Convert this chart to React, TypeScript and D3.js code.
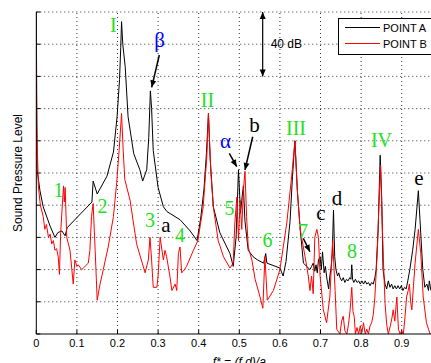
import React from "react";
import * as d3 from "d3";

const W = 431;
const H = 363;

// POINT A (black) : [f*, dB]
const pointA: [number, number][] = [
  [0, 200], [0.001, 150], [0.002, 102], [0.009, 89], [0.017, 79], [0.034, 67], [0.046, 60],
  [0.053, 63], [0.063, 64], [0.071, 61], [0.076, 66], [0.137, 82], [0.140, 95], [0.150, 87],
  [0.174, 98], [0.19, 113], [0.199, 135], [0.205, 158], [0.208, 178], [0.210, 194], [0.213, 180],
  [0.219, 166], [0.226, 135], [0.240, 112], [0.255, 102], [0.262, 95], [0.272, 102], [0.277, 122],
  [0.281, 151], [0.284, 140], [0.288, 114], [0.300, 91], [0.313, 79], [0.322, 76], [0.354, 71],
  [0.379, 64], [0.396, 58], [0.405, 72], [0.413, 90], [0.419, 112], [0.424, 137], [0.428, 110],
  [0.436, 79], [0.452, 63], [0.477, 50], [0.485, 42], [0.492, 60], [0.498, 102], [0.503, 75],
  [0.506, 83], [0.510, 92], [0.514, 70], [0.522, 52], [0.534, 48], [0.545, 46], [0.560, 44],
  [0.565, 50], [0.568, 44], [0.600, 41], [0.608, 36], [0.615, 45], [0.625, 70], [0.631, 98],
  [0.637, 120], [0.643, 89], [0.650, 65], [0.658, 44], [0.666, 42], [0.674, 40], [0.678, 42],
  [0.682, 44], [0.686, 39], [0.689, 43], [0.692, 38], [0.695, 46], [0.699, 48], [0.702, 40],
  [0.705, 51], [0.709, 38], [0.712, 42], [0.716, 34], [0.720, 28], [0.723, 36], [0.726, 41],
  [0.729, 50], [0.732, 77], [0.735, 48], [0.738, 40], [0.742, 36], [0.745, 38], [0.748, 35],
  [0.752, 33], [0.756, 35], [0.760, 32], [0.764, 34], [0.768, 33], [0.772, 35], [0.775, 34],
  [0.777, 43], [0.779, 34], [0.782, 32], [0.786, 34], [0.790, 32], [0.794, 33], [0.798, 31],
  [0.802, 33], [0.806, 31], [0.810, 33], [0.814, 31], [0.818, 32], [0.822, 30], [0.826, 32],
  [0.830, 31], [0.834, 35], [0.837, 40], [0.842, 65], [0.847, 111], [0.851, 83], [0.854, 40],
  [0.859, 31], [0.863, 28], [0.867, 33], [0.871, 29], [0.875, 31], [0.879, 28], [0.883, 30],
  [0.887, 28], [0.891, 30], [0.895, 28], [0.899, 30], [0.903, 27], [0.907, 29], [0.911, 28],
  [0.915, 33], [0.920, 40], [0.927, 52], [0.933, 65], [0.941, 89], [0.945, 71], [0.952, 40],
  [0.957, 29], [0.962, 31], [0.966, 27], [0.968, 33], [0.972, 27],
];

// POINT B (red) : [f*, dB]
const pointB: [number, number][] = [
  [0, 170], [0.001, 130], [0.005, 92], [0.010, 80], [0.017, 73], [0.021, 65], [0.025, 68],
  [0.030, 60], [0.034, 62], [0.038, 56], [0.042, 58], [0.046, 52], [0.050, 53], [0.054, 48],
  [0.057, 37], [0.060, 63], [0.067, 92], [0.069, 82], [0.071, 91], [0.075, 60], [0.083, 52],
  [0.091, 31], [0.095, 46], [0.100, 42], [0.103, 43], [0.112, 40], [0.116, 41], [0.128, 44],
  [0.132, 52], [0.136, 73], [0.140, 81], [0.145, 52], [0.150, 21], [0.157, 31], [0.165, 40],
  [0.177, 54], [0.190, 73], [0.198, 94], [0.204, 114], [0.210, 137], [0.214, 114], [0.218, 96],
  [0.231, 83], [0.247, 56], [0.268, 38], [0.276, 46], [0.280, 60], [0.284, 46], [0.288, 29],
  [0.297, 29], [0.300, 36], [0.305, 60], [0.313, 46], [0.317, 52], [0.321, 48], [0.329, 36],
  [0.334, 27], [0.342, 31], [0.346, 27], [0.350, 50], [0.354, 54], [0.358, 38], [0.362, 39],
  [0.370, 42], [0.387, 52], [0.398, 58], [0.411, 79], [0.420, 110], [0.424, 137], [0.430, 100],
  [0.436, 79], [0.448, 58], [0.461, 48], [0.477, 41], [0.485, 44], [0.489, 69], [0.494, 85],
  [0.498, 58], [0.502, 83], [0.506, 65], [0.510, 89], [0.514, 101], [0.518, 73], [0.522, 54],
  [0.531, 46], [0.539, 34], [0.551, 23], [0.558, 16], [0.563, 48], [0.569, 21], [0.584, 27],
  [0.600, 40], [0.617, 69], [0.629, 98], [0.637, 120], [0.643, 89], [0.650, 65], [0.662, 48],
  [0.670, 36], [0.674, 27], [0.678, 36], [0.682, 25], [0.686, 60], [0.691, 65], [0.695, 60],
  [0.699, 36], [0.707, 15], [0.715, 7], [0.723, 23], [0.730, 58], [0.736, 27], [0.740, 3],
  [0.748, 0], [0.752, 8], [0.756, 11], [0.760, 2], [0.765, 0], [0.769, 6], [0.773, 15],
  [0.777, 29], [0.780, 14], [0.783, 11], [0.786, 0], [0.790, 4], [0.794, 0], [0.798, 5],
  [0.802, 1], [0.806, 7], [0.810, 0], [0.814, 3], [0.818, 0], [0.822, 5], [0.826, 7],
  [0.830, 12], [0.834, 23], [0.840, 52], [0.845, 87], [0.848, 105], [0.851, 77], [0.855, 46],
  [0.859, 19], [0.863, 6], [0.867, 0], [0.872, 5], [0.876, 10], [0.879, 15], [0.883, 8],
  [0.888, 23], [0.892, 3], [0.896, 0], [0.900, 2], [0.904, 0], [0.908, 10], [0.912, 23],
  [0.916, 27], [0.919, 31], [0.922, 20], [0.925, 15], [0.929, 30], [0.933, 44], [0.941, 65],
  [0.947, 50], [0.953, 23], [0.961, 7], [0.966, 3], [0.970, 0], [0.972, 0],
];

const xTicks = [0, 0.1, 0.2, 0.3, 0.4, 0.5, 0.6, 0.7, 0.8, 0.9, 1];
const xTickLabels = ["0", "0.1", "0.2", "0.3", "0.4", "0.5", "0.6", "0.7", "0.8", "0.9"];
const yTicks = [0, 20, 40, 60, 80, 100, 120, 140, 160, 180, 200];

// annotation labels: text, f*, dB (baseline)
const greenLabels: [string, number, number][] = [
  ["I", 0.190, 187.6], ["II", 0.4217, 141], ["III", 0.6397, 123.6], ["IV", 0.8502, 116.1],
  ["1", 0.0547, 85.1], ["2", 0.163, 75.2], ["3", 0.280, 66.5], ["4", 0.354, 57.1],
  ["5", 0.476, 73.9], ["6", 0.5695, 54], ["7", 0.657, 59.6], ["8", 0.7776, 47.2],
];
const blackLabels: [string, number, number][] = [
  ["a", 0.3195, 63.4], ["b", 0.5374, 125.5], ["c", 0.701, 70.8], ["d", 0.7406, 80.1], ["e", 0.9426, 92.5],
];
const blueLabels: [string, number, number][] = [
  ["α", 0.466, 115.5], ["β", 0.3034, 178.3],
];
// arrows: from [f, dB] to [f, dB]
const arrows: [number, number, number, number][] = [
  [0.303, 173.3, 0.2842, 153.2],
  [0.4754, 112.2, 0.4936, 103.9],
  [0.533, 122.5, 0.514, 101.9],
  [0.6576, 59.4, 0.674, 51.1],
];
const scaleBar = { f: 0.5576, from: 200, to: 160, label: "40 dB" };
const legendItems = [
  { name: "POINT A", color: "#000000" },
  { name: "POINT B", color: "#ff0000" },
];

export default function App() {
  const x = d3.scaleLinear().domain([0, 1]).range([36.3, 442.3]);
  const y = d3.scaleLinear().domain([0, 200]).range([334, 12]);
  const line = d3
    .line<[number, number]>()
    .x((d) => x(d[0]))
    .y((d) => y(Math.max(0, d[1])));

  const arrowHead = (x1: number, y1: number, x2: number, y2: number, len = 7, wid = 3) => {
    const a = Math.atan2(y2 - y1, x2 - x1);
    const bx = x2 - len * Math.cos(a);
    const by = y2 - len * Math.sin(a);
    const px = -Math.sin(a) * wid;
    const py = Math.cos(a) * wid;
    return `M${x2},${y2}L${bx + px},${by + py}L${bx - px},${by - py}Z`;
  };

  const sans = "'Liberation Sans', Arial, sans-serif";
  const serif = "'Liberation Serif', 'Times New Roman', serif";

  return (
    <svg
      width={W}
      height={H}
      style={{ position: "absolute", left: 0, top: 0, background: "#fff" }}
    >
      <defs>
        <clipPath id="plotClip">
          <rect x={x(0)} y={y(200) - 2} width={x(1) - x(0)} height={y(0) - y(200) + 2} />
        </clipPath>
      </defs>
      <rect x={0} y={0} width={W} height={H} fill="#fff" />
      {/* grid */}
      {xTicks.slice(1).map((t) => (
        <line key={"gx" + t} x1={x(t)} x2={x(t)} y1={y(0)} y2={y(200)} stroke="#333" strokeWidth={1} strokeDasharray="1 3" />
      ))}
      {yTicks.slice(1).map((t) => (
        <line key={"gy" + t} x1={x(0)} x2={x(1)} y1={y(t)} y2={y(t)} stroke="#333" strokeWidth={1} strokeDasharray="1 3" />
      ))}
      {/* ticks */}
      {xTicks.map((t) => (
        <line key={"tx" + t} x1={x(t)} x2={x(t)} y1={y(0)} y2={y(0) - 4} stroke="#000" />
      ))}
      {yTicks.map((t) => (
        <line key={"ty" + t} x1={x(0)} x2={x(0) + 4} y1={y(t)} y2={y(t)} stroke="#000" />
      ))}
      {/* series */}
      <g clipPath="url(#plotClip)">
        <path d={line(pointA) || ""} fill="none" stroke="#000" strokeWidth={1} strokeLinejoin="round" />
        <path d={line(pointB) || ""} fill="none" stroke="#ff0000" strokeWidth={1} strokeLinejoin="round" />
      </g>
      {/* axes */}
      <line x1={x(0)} x2={x(0)} y1={y(0)} y2={y(200)} stroke="#000" strokeWidth={1} />
      <line x1={x(0)} x2={x(1)} y1={y(0)} y2={y(0)} stroke="#000" strokeWidth={1} />
      {xTickLabels.map((s, i) => (
        <text key={"lx" + s} x={x(xTicks[i])} y={347} fontSize={11} fontFamily={sans} textAnchor="middle" fill="#000">
          {s}
        </text>
      ))}
      <text x={(x(0) + x(1)) / 2} y={366} fontSize={12} fontFamily={sans} fontStyle="italic" textAnchor="middle">
        f* = (f d)/a
      </text>
      <text transform={`translate(22,${(y(0) + y(200)) / 2}) rotate(-90)`} fontSize={12} fontFamily={sans} textAnchor="middle">
        Sound Pressure Level
      </text>
      {/* annotations */}
      {greenLabels.map(([s, f, v]) => (
        <text key={"g" + s} x={x(f)} y={y(v)} fontSize={20} fontFamily={serif} fill="#22e022" textAnchor="middle">{s}</text>
      ))}
      {blackLabels.map(([s, f, v]) => (
        <text key={"k" + s} x={x(f)} y={y(v)} fontSize={21} fontFamily={serif} fill="#000" textAnchor="middle">{s}</text>
      ))}
      {blueLabels.map(([s, f, v]) => (
        <text key={"b" + s} x={x(f)} y={y(v)} fontSize={21} fontFamily={serif} fill="#0000ff" textAnchor="middle">{s}</text>
      ))}
      {arrows.map(([f1, v1, f2, v2], i) => {
        const x1 = x(f1), y1 = y(v1), x2 = x(f2), y2 = y(v2);
        return (
          <g key={"ar" + i}>
            <line x1={x1} y1={y1} x2={x2} y2={y2} stroke="#000" strokeWidth={1.5} />
            <path d={arrowHead(x1, y1, x2, y2)} fill="#000" />
          </g>
        );
      })}
      <g>
        <line x1={x(scaleBar.f)} x2={x(scaleBar.f)} y1={y(scaleBar.from)} y2={y(scaleBar.to)} stroke="#000" strokeWidth={1.2} />
        <path d={arrowHead(x(scaleBar.f), y(scaleBar.to), x(scaleBar.f), y(scaleBar.from))} fill="#000" />
        <path d={arrowHead(x(scaleBar.f), y(scaleBar.from), x(scaleBar.f), y(scaleBar.to))} fill="#000" />
        <text x={x(scaleBar.f) + 8} y={(y(scaleBar.from) + y(scaleBar.to)) / 2 + 4} fontSize={12} fontFamily={sans}>
          {scaleBar.label}
        </text>
      </g>
      {/* legend */}
      <g>
        <rect x={338.5} y={18.5} width={110} height={36} fill="#fff" stroke="#000" strokeWidth={1} />
        {legendItems.map((it, i) => (
          <g key={it.name}>
            <line x1={345} x2={380} y1={27.5 + i * 16} y2={27.5 + i * 16} stroke={it.color} strokeWidth={1} />
            <text x={383} y={31.5 + i * 16} fontSize={11} fontFamily={sans} fill="#000">{it.name}</text>
          </g>
        ))}
      </g>
    </svg>
  );
}
